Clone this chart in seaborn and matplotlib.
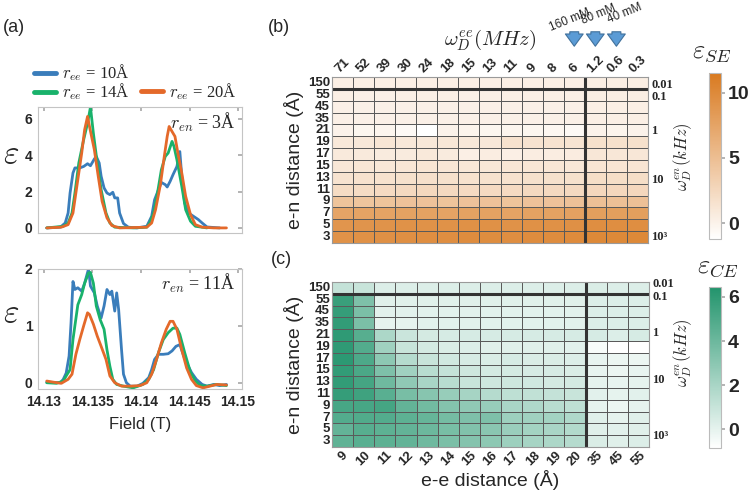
import matplotlib
matplotlib.use("Agg")
import matplotlib.pyplot as plt
import seaborn as sns
import pandas as pd
from matplotlib.colors import LinearSegmentedColormap
from matplotlib.lines import Line2D

# ---------------- data ----------------
en_dist = [150, 55, 45, 35, 21, 19, 17, 15, 13, 11, 9, 7, 5, 3]
ee_dist = [9, 10, 11, 12, 13, 14, 15, 16, 17, 18, 19, 20, 35, 45, 55]
wee_labels = ["71", "52", "39", "30", "24", "18", "15", "13", "11", "9", "8", "6", "1.2", "0.6", "0.3"]
wen_labels = ["0.01", "0.1", "1", "10", "10³"]
conc_labels = ["160 mM", "80 mM", "40 mM"]
conc_cols = [11, 12, 13]

# epsilon_SE, rows = e-n distance, cols = e-e distance
se_eff = [
    [0.3, 0.3, 0.3, 0.3, 0.3, 0.3, 0.3, 0.3, 0.3, 0.3, 0.3, 0.3, 0.4, 0.4, 0.4],
    [0.3, 0.2, 0.2, 0.3, 0.3, 0.3, 0.2, 0.3, 0.3, 0.3, 0.3, 0.3, 0.4, 0.4, 0.4],
    [0.2, 0.2, 0.2, 0.2, 0.2, 0.2, 0.2, 0.2, 0.2, 0.2, 0.2, 0.2, 0.3, 0.3, 0.3],
    [0.2, 0.2, 0.2, 0.2, 0.2, 0.2, 0.2, 0.2, 0.2, 0.2, 0.2, 0.2, 0.3, 0.3, 0.3],
    [0.0, -0.3, -0.2, -0.6, -1.2, 0.0, -0.1, -0.3, -0.2, -0.3, -0.4, -0.6, 0.0, -0.1, 0.0],
    [0.9, 1.0, 1.2, 1.0, 1.0, 1.1, 1.0, 1.0, 1.6, 1.5, 1.5, 1.4, 1.7, 1.7, 1.7],
    [0.8, 0.8, 0.7, 0.7, 0.9, 0.7, 0.3, 0.5, 0.3, 0.5, 0.5, 0.6, 1.1, 1.1, 1.1],
    [1.1, 1.2, 1.1, 1.2, 1.3, 1.2, 1.1, 1.1, 1.2, 1.2, 1.2, 1.1, 1.3, 1.3, 1.3],
    [1.5, 1.6, 1.6, 1.7, 1.8, 1.7, 1.6, 1.6, 1.6, 1.7, 1.7, 1.7, 2.0, 2.0, 2.0],
    [2.2, 2.2, 2.3, 2.4, 2.5, 2.4, 2.3, 2.3, 2.3, 2.4, 2.4, 2.4, 2.6, 2.6, 2.6],
    [4.5, 4.4, 4.5, 4.6, 4.6, 4.5, 4.6, 4.6, 4.5, 4.6, 4.6, 4.7, 4.8, 4.8, 4.8],
    [7.5, 7.6, 7.6, 7.7, 7.7, 7.6, 7.7, 7.7, 7.6, 7.7, 7.7, 7.8, 8.0, 8.0, 8.0],
    [8.9, 9.0, 9.1, 9.2, 9.2, 9.2, 9.3, 9.3, 9.2, 9.3, 9.3, 9.4, 9.6, 9.6, 9.6],
    [9.2, 9.3, 9.4, 9.5, 9.6, 9.6, 9.8, 9.7, 9.6, 9.8, 9.8, 9.9, 10.1, 10.1, 10.1],
]

# epsilon_CE
ce_eff = [
    [1.1, 1.0, 0.3, 0.3, 0.3, 0.3, 0.3, 0.3, 0.3, 0.3, 0.3, 0.3, 0.4, 0.3, 0.3],
    [5.7, 3.4, 0.2, 0.2, 0.2, 0.2, 0.2, 0.2, 0.2, 0.2, 0.2, 0.2, 0.3, 0.3, 0.3],
    [5.8, 3.5, 0.1, 0.1, 0.1, 0.1, 0.1, 0.1, 0.1, 0.1, 0.1, 0.1, 0.3, 0.3, 0.3],
    [5.9, 3.5, 0.0, 0.0, 0.1, 0.1, 0.1, 0.1, 0.1, 0.1, 0.1, 0.1, 0.3, 0.3, 0.3],
    [6.0, 4.7, 1.9, 0.9, 0.6, 0.5, 0.5, 0.5, 0.5, 0.5, 0.5, 0.5, 0.5, 0.3, 0.5],
    [6.0, 4.8, 2.3, 1.0, 0.6, 0.4, 0.3, 0.2, 0.2, 0.2, 0.2, 0.1, -0.6, -0.85, -0.85],
    [6.1, 5.0, 2.9, 1.6, 1.0, 0.7, 0.5, 0.4, 0.5, 0.4, 0.4, 0.3, -0.1, -0.2, -0.2],
    [5.9, 5.1, 3.4, 2.3, 1.5, 1.1, 0.8, 0.6, 0.6, 0.5, 0.5, 0.4, -0.1, -0.2, -0.1],
    [5.9, 5.3, 3.9, 2.8, 2.0, 1.5, 1.0, 0.8, 0.8, 0.7, 0.6, 0.6, 0.0, -0.1, 0.0],
    [5.8, 5.5, 4.6, 3.6, 3.1, 2.6, 2.1, 1.6, 1.3, 1.2, 1.1, 1.0, 0.1, 0.0, 0.1],
    [5.2, 5.2, 5.3, 4.3, 3.8, 3.2, 2.8, 2.6, 2.0, 1.8, 1.5, 1.3, 0.0, -0.2, 0.0],
    [4.8, 4.9, 4.8, 4.5, 4.2, 3.7, 3.4, 3.4, 2.4, 2.3, 2.2, 1.8, 0.2, 0.0, 0.2],
    [4.3, 4.7, 4.5, 4.3, 4.0, 3.6, 3.3, 3.0, 2.5, 2.2, 2.0, 1.7, 0.2, 0.1, 0.2],
    [4.4, 4.6, 4.5, 4.3, 3.9, 3.5, 3.2, 2.9, 2.4, 2.1, 1.9, 1.6, 0.4, 0.2, 0.3],
]

# panel (a), r_en = 3 A
field_top_10 = [14.1303, 14.1317, 14.1322, 14.1325, 14.1327, 14.1330, 14.1332, 14.1337, 14.1341, 14.1345,
                14.1348, 14.1352, 14.1354, 14.1357, 14.1359, 14.1362, 14.1365, 14.1368, 14.1371, 14.1373,
                14.1376, 14.1378, 14.1382, 14.1387, 14.1396, 14.1406, 14.1411, 14.1414, 14.1418, 14.1421,
                14.1425, 14.1427, 14.1430, 14.1433, 14.1437, 14.1440, 14.1442, 14.1445, 14.1449, 14.1454,
                14.1459, 14.1463, 14.1468, 14.1481]
eps_top_10 = [0.00, 0.04, 0.27, 0.82, 1.92, 3.02, 3.30, 3.30, 3.38, 3.53,
              3.42, 3.79, 3.93, 3.57, 2.84, 2.20, 1.92, 1.83, 1.96, 1.65,
              1.65, 0.82, 0.24, 0.04, 0.00, 0.09, 0.64, 1.55, 2.10, 2.50,
              2.38, 2.25, 2.56, 2.93, 3.38, 4.20, 2.84, 1.37, 0.82, 0.64,
              0.46, 0.27, 0.05, 0.00]
field_top_14 = [14.1303, 14.1320, 14.1325, 14.1329, 14.1332, 14.1336, 14.1341, 14.1345, 14.1348, 14.1351,
                14.1355, 14.1359, 14.1364, 14.1368, 14.1373, 14.1392, 14.1406, 14.1409, 14.1413, 14.1417,
                14.1421, 14.1425, 14.1428, 14.1432, 14.1434, 14.1437, 14.1442, 14.1446, 14.1451, 14.1456,
                14.1468]
eps_top_14 = [0.00, 0.09, 0.27, 0.82, 1.92, 3.57, 4.85, 5.76, 6.64, 5.21,
              3.57, 2.10, 0.82, 0.27, 0.04, 0.00, 0.04, 0.27, 0.82, 1.92,
              3.20, 3.93, 4.12, 4.76, 4.48, 3.75, 2.29, 1.00, 0.37, 0.09,
              0.00]
field_top_20 = [14.1303, 14.1318, 14.1325, 14.1330, 14.1334, 14.1339, 14.1342, 14.1345, 14.1347, 14.1352,
                14.1356, 14.1360, 14.1365, 14.1370, 14.1378, 14.1406, 14.1411, 14.1415, 14.1420, 14.1424,
                14.1427, 14.1429, 14.1432, 14.1435, 14.1438, 14.1442, 14.1446, 14.1451, 14.1456, 14.1463,
                14.1475, 14.1488]
eps_top_20 = [0.00, 0.04, 0.18, 0.82, 2.29, 4.12, 5.40, 6.13, 5.58, 4.30,
              2.84, 1.46, 0.55, 0.13, 0.00, 0.04, 0.27, 1.00, 2.38, 3.93,
              5.03, 5.58, 5.30, 5.03, 4.12, 3.02, 1.74, 0.73, 0.18, 0.04,
              0.00, 0.00]

# panel (a), r_en = 11 A
field_bot_10 = [14.1303, 14.1317, 14.1320, 14.1323, 14.1326, 14.1328, 14.1330, 14.1332, 14.1335, 14.1339,
                14.1342, 14.1346, 14.1348, 14.1352, 14.1355, 14.1359, 14.1362, 14.1365, 14.1368, 14.1370,
                14.1373, 14.1375, 14.1377, 14.1380, 14.1382, 14.1385, 14.1389, 14.1396, 14.1402, 14.1408,
                14.1411, 14.1414, 14.1418, 14.1423, 14.1428, 14.1432, 14.1436, 14.1440, 14.1444, 14.1447,
                14.1452, 14.1457, 14.1463, 14.1468, 14.1475, 14.1481, 14.1488]
eps_bot_10 = [0.01, 0.00, 0.06, 0.17, 0.47, 1.05, 1.78, 1.64, 1.67, 1.61,
              1.75, 2.00, 1.70, 1.58, 1.35, 1.14, 1.35, 1.64, 1.55, 1.61,
              1.26, 1.58, 1.29, 0.58, 0.15, 0.00, -0.06, -0.06, -0.01, 0.09,
              0.23, 0.41, 0.50, 0.50, 0.51, 0.56, 0.64, 0.67, 0.47, 0.35,
              0.18, 0.06, -0.03, -0.06, -0.03, -0.05, -0.03]
field_bot_14 = [14.1303, 14.1313, 14.1320, 14.1323, 14.1327, 14.1330, 14.1335, 14.1339, 14.1342, 14.1346,
                14.1348, 14.1351, 14.1354, 14.1358, 14.1362, 14.1365, 14.1368, 14.1371, 14.1375, 14.1382,
                14.1392, 14.1402, 14.1408, 14.1413, 14.1418, 14.1423, 14.1428, 14.1433, 14.1437, 14.1440,
                14.1445, 14.1451, 14.1456, 14.1461, 14.1468, 14.1478, 14.1488]
eps_bot_14 = [0.00, -0.01, 0.03, 0.12, 0.23, 0.76, 1.37, 1.55, 1.75, 1.93,
              1.94, 1.75, 1.35, 1.11, 0.94, 0.58, 0.29, 0.06, -0.03, -0.06,
              -0.09, -0.03, 0.06, 0.23, 0.53, 0.76, 0.88, 0.96, 0.96, 0.85,
              0.53, 0.18, 0.03, -0.05, -0.06, -0.03, -0.05]
field_bot_20 = [14.1303, 14.1310, 14.1318, 14.1325, 14.1329, 14.1333, 14.1337, 14.1341, 14.1345, 14.1347,
                14.1351, 14.1355, 14.1359, 14.1364, 14.1368, 14.1373, 14.1380, 14.1390, 14.1399, 14.1406,
                14.1411, 14.1416, 14.1421, 14.1426, 14.1430, 14.1433, 14.1437, 14.1442, 14.1447, 14.1452,
                14.1457, 14.1464, 14.1471, 14.1478, 14.1488]
eps_bot_20 = [0.03, 0.01, -0.01, 0.06, 0.15, 0.50, 0.76, 1.00, 1.23, 1.20,
              1.03, 0.82, 0.64, 0.41, 0.12, 0.00, -0.06, -0.06, -0.05, 0.00,
              0.15, 0.41, 0.70, 0.94, 1.08, 1.08, 0.94, 0.58, 0.26, 0.06,
              -0.05, -0.09, -0.06, -0.03, -0.04]

ree_labels = ["10Å", "14Å", "20Å"]
line_colors = ["#3a7dbb", "#19b26b", "#e4692a"]


def long_df(fields, values):
    parts = []
    for f, v, lab in zip(fields, values, ree_labels):
        parts.append(pd.DataFrame({"field": f, "eps": v, "ree": lab}))
    return pd.concat(parts, ignore_index=True)


sns.set_theme(style="white")
plt.rcParams["font.family"] = ["Liberation Sans", "DejaVu Sans"]
plt.rcParams["mathtext.fontset"] = "cm"

fig = plt.figure(figsize=(7.5, 4.95), dpi=100)
W, H = 750.0, 495.0


def box(l, t, r, b):
    return [l / W, 1 - b / H, (r - l) / W, (b - t) / H]


ax_top = fig.add_axes(box(38, 107, 242, 233))
ax_bot = fig.add_axes(box(38, 269, 242, 389))
ax_b = fig.add_axes(box(332, 77, 648, 243))
ax_c = fig.add_axes(box(332, 282, 649, 447))
cax_b = fig.add_axes(box(709, 73, 721, 239))
cax_c = fig.add_axes(box(709, 287, 721, 448))

# ---- panel (a) line plots ----
top_df = long_df([field_top_10, field_top_14, field_top_20], [eps_top_10, eps_top_14, eps_top_20])
bot_df = long_df([field_bot_10, field_bot_14, field_bot_20], [eps_bot_10, eps_bot_14, eps_bot_20])
pal = dict(zip(ree_labels, line_colors))

for ax, df, ylim, yticks, ren in [
    (ax_top, top_df, (-0.28, 6.65), [0, 2, 4, 6], "3Å"),
    (ax_bot, bot_df, (-0.11, 2.0), [0, 1, 2], "11Å"),
]:
    sns.lineplot(data=df, x="field", y="eps", hue="ree", palette=pal, estimator=None,
                 sort=False, linewidth=2.0, legend=False, ax=ax)
    ax.set_xlim(14.1294, 14.1504)
    ax.set_ylim(*ylim)
    ax.set_yticks(yticks)
    ax.set_xticks([14.13, 14.135, 14.14, 14.145, 14.15])
    for s in ax.spines.values():
        s.set_color("#c4c4c4")
        s.set_linewidth(0.8)
    ax.tick_params(direction="in", length=3, color="#aaaaaa", right=True, top=True,
                   labelsize=10, labelcolor="#262626", pad=4)
    for lab in ax.get_yticklabels() + ax.get_xticklabels():
        lab.set_fontweight("bold")
    ax.set_ylabel(r"$\varepsilon$", fontsize=24, rotation=0, labelpad=0)
    ax.yaxis.set_label_coords(-0.13, 0.5)
    ax.text(0.97, 0.88, r"$r_{en}$ = " + ren, transform=ax.transAxes, ha="right", va="center",
            fontsize=13, family=["Liberation Serif", "DejaVu Serif"])

ax_top.set_xlabel("")
ax_top.set_xticklabels([])
ax_bot.set_xticklabels(["14.13", "14.135", "14.14", "14.145", "14.15"], fontweight="bold")
ax_bot.set_xlabel("Field (T)", fontsize=12, color="#262626", labelpad=6)

handles = [Line2D([0], [0], color=line_colors[0], lw=3.5),
           Line2D([0], [0], color=line_colors[1], lw=3.5),
           Line2D([0], [0], alpha=0),
           Line2D([0], [0], color=line_colors[2], lw=3.5)]
labels = [r"$r_{ee}$ = " + ree_labels[0], r"$r_{ee}$ = " + ree_labels[1], "",
          r"$r_{ee}$ = " + ree_labels[2]]
fig.legend(handles, labels, loc="upper left", bbox_to_anchor=(26 / W, 1 - 54 / H), ncol=2,
           frameon=False, handlelength=1.3, handletextpad=0.35, columnspacing=0.7,
           labelspacing=-0.1, borderpad=0, prop={"family": ["Liberation Serif", "DejaVu Serif"], "size": 12})

# ---- heatmaps ----
orange_cmap = LinearSegmentedColormap.from_list("se", ["#ffffff", "#d97a20"])
green_cmap = LinearSegmentedColormap.from_list("ce", ["#ffffff", "#22946c"])
se_df = pd.DataFrame(se_eff, index=en_dist, columns=ee_dist)
ce_df = pd.DataFrame(ce_eff, index=en_dist, columns=ee_dist)

sns.heatmap(se_df, ax=ax_b, cmap=orange_cmap, vmin=-1.2, vmax=11.5, linewidths=0.6,
            linecolor="#5a5a5a", cbar_ax=cax_b, cbar_kws={"ticks": [0, 5, 10]},
            xticklabels=wee_labels, yticklabels=en_dist)
sns.heatmap(ce_df, ax=ax_c, cmap=green_cmap, vmin=-0.85, vmax=6.45, linewidths=0.6,
            linecolor="#5a5a5a", cbar_ax=cax_c, cbar_kws={"ticks": [0, 2, 4, 6]},
            xticklabels=ee_dist, yticklabels=en_dist)

ax_b.xaxis.tick_top()
right_pos = {
    ax_b: [0.68, 1.7, 4.56, 8.7, 13.5],
    ax_c: [0.2, 1.3, 4.3, 8.3, 13.1],
}
for ax in (ax_b, ax_c):
    ax.axhline(1, color="#333333", lw=2.2)
    ax.axvline(12, color="#333333", lw=2.2)
    for s in ax.spines.values():
        s.set_visible(True)
        s.set_color("#9a9a9a")
        s.set_linewidth(0.8)
    ax.tick_params(length=0, pad=1.5)
    ax.set_yticklabels(en_dist, rotation=0, fontweight="bold", fontsize=9.5, color="#262626")
    plt.setp(ax.get_xticklabels(), rotation=45, fontweight="bold", fontsize=9.5, color="#262626")
    ax.set_ylabel("e-n distance (Å)", fontsize=14, color="#262626", labelpad=3)
    for y, lab in zip(right_pos[ax], wen_labels):
        ax.text(15.15, y, lab, ha="left", va="center", fontsize=9, fontweight="bold",
                family=["Liberation Serif", "DejaVu Serif"])
    ax.set_xlabel("")
    cbar = ax.collections[0].colorbar
    cbar.outline.set_edgecolor("#bbbbbb")
    cbar.outline.set_linewidth(0.8)

ax_c.set_xlabel("e-e distance (Å)", fontsize=14, color="#262626", labelpad=0)
ax_c.xaxis.set_label_coords(0.5, -0.14)

fig.text(683 / W, 1 - 157 / H, r"$\omega_D^{en}(kHz)$", rotation=90, ha="center", va="center", fontsize=12)
fig.text(683 / W, 1 - 353 / H, r"$\omega_D^{en}(kHz)$", rotation=90, ha="center", va="center", fontsize=12)
fig.text(490 / W, 1 - 40 / H, r"$\omega_D^{ee}(MHz)$", ha="center", va="center", fontsize=15)

# arrows for concentrations
label_offsets = [(-0.2, 20), (0.15, 14), (0.4, 13)]
for col, lab, (dx, ylab) in zip(conc_cols, conc_labels, label_offsets):
    ax_b.annotate("", xy=(col + 0.5, 1 - 49 / H), xytext=(col + 0.5, 1 - 29 / H),
                  xycoords=("data", "figure fraction"), textcoords=("data", "figure fraction"),
                  arrowprops=dict(arrowstyle="simple,head_length=0.55,head_width=0.8,tail_width=0.4",
                                  fc="#5b9bd5", ec="#41719c", lw=0.8, mutation_scale=16))
    ax_b.annotate(lab, xy=(col + 0.5 + dx, 1 - ylab / H), xycoords=("data", "figure fraction"),
                  ha="center", va="center", rotation=22, fontsize=8.5, color="#262626")

# colorbars
for cax in (cax_b, cax_c):
    cax.tick_params(length=3, color="#aaaaaa", labelsize=14, labelcolor="#262626", pad=2)
    for lab in cax.get_yticklabels():
        lab.set_fontweight("bold")

fig.text(712 / W, 1 - 52 / H, r"$\varepsilon_{SE}$", ha="center", va="center", fontsize=19)
fig.text(718 / W, 1 - 267 / H, r"$\varepsilon_{CE}$", ha="center", va="center", fontsize=19)

fig.text(14 / W, 1 - 27 / H, "(a)", ha="center", va="center", fontsize=13)
fig.text(279 / W, 1 - 27 / H, "(b)", ha="center", va="center", fontsize=13)
fig.text(281 / W, 1 - 259 / H, "(c)", ha="center", va="center", fontsize=13)

fig.savefig("out.png", dpi=100)
plt.close(fig)
